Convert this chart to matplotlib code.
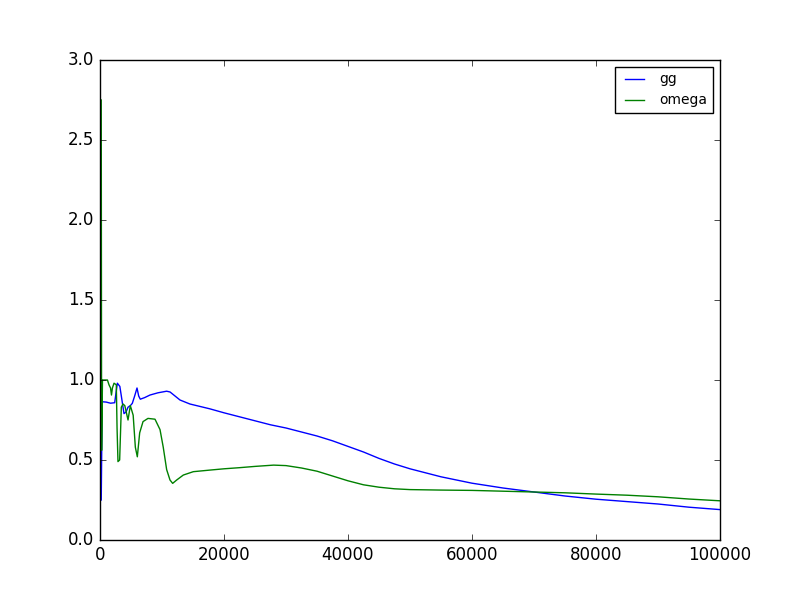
import matplotlib
matplotlib.use('Agg')
import matplotlib.pyplot as plt

plt.style.use('classic')

# gg series
gg_x = [200, 350, 1000, 1700, 2370, 2620, 2800, 3000, 3200, 3440, 3870, 4200, 4520, 4900,
        5210, 5590, 5970, 6240, 6500, 7200, 8060, 9350, 10750, 11300, 12900, 14500,
        17700, 20000, 22500, 25000, 27500, 30000, 32500, 35000, 37500, 40000, 42500,
        45000, 47500, 50000, 55000, 60000, 65000, 70000, 75000, 80000, 85000, 90000,
        95000, 100000]
gg_y = [0.25, 0.864, 0.862, 0.855, 0.858, 0.93, 0.98, 0.97, 0.96, 0.90, 0.79, 0.80, 0.83,
        0.84, 0.854, 0.90, 0.95, 0.90, 0.88, 0.89, 0.906, 0.92, 0.93, 0.925, 0.875, 0.85,
        0.82, 0.795, 0.77, 0.745, 0.72, 0.70, 0.675, 0.65, 0.62, 0.585, 0.55, 0.51,
        0.475, 0.445, 0.395, 0.355, 0.325, 0.30, 0.275, 0.255, 0.24, 0.225, 0.205, 0.19]

# omega series
om_x = [200, 260, 400, 1200, 1450, 1700, 1850, 2000, 2260, 2630, 2750, 2900, 3170, 3440, 3710,
        4000, 4520, 4890, 5350, 5700, 6020, 6400, 6940, 7740, 8870, 9680, 10200, 10750,
        11290, 11720, 12370, 13440, 15050, 17740, 20000, 22500, 25000, 28000, 30000,
        32500, 35000, 37500, 40000, 42500, 45000, 47500, 50000, 55000, 60000, 65000,
        70000, 75000, 80000, 85000, 90000, 95000, 100000]
om_y = [2.75, 0.56, 1.0, 1.0, 0.97, 0.95, 0.906, 0.95, 0.98, 0.97, 0.70, 0.49, 0.50, 0.83,
        0.85, 0.84, 0.75, 0.84, 0.78, 0.58, 0.52, 0.67, 0.74, 0.76, 0.755, 0.69, 0.58,
        0.44, 0.375, 0.354, 0.375, 0.406, 0.427, 0.437, 0.445, 0.452, 0.46, 0.468, 0.465,
        0.45, 0.43, 0.40, 0.37, 0.345, 0.33, 0.32, 0.315, 0.312, 0.31, 0.305, 0.30,
        0.295, 0.287, 0.28, 0.27, 0.256, 0.245]

fig = plt.figure(figsize=(8, 6), dpi=100)
ax = fig.add_axes([0.125, 0.1, 0.775, 0.8])
ax.plot(gg_x, gg_y, color='b', label='gg')
ax.plot(om_x, om_y, color='g', label='omega')
ax.set_xlim(0, 100000)
ax.set_ylim(0, 3.0)
ax.legend(loc='upper right', fontsize=10)

fig.savefig('out.png', dpi=100, facecolor='white')
